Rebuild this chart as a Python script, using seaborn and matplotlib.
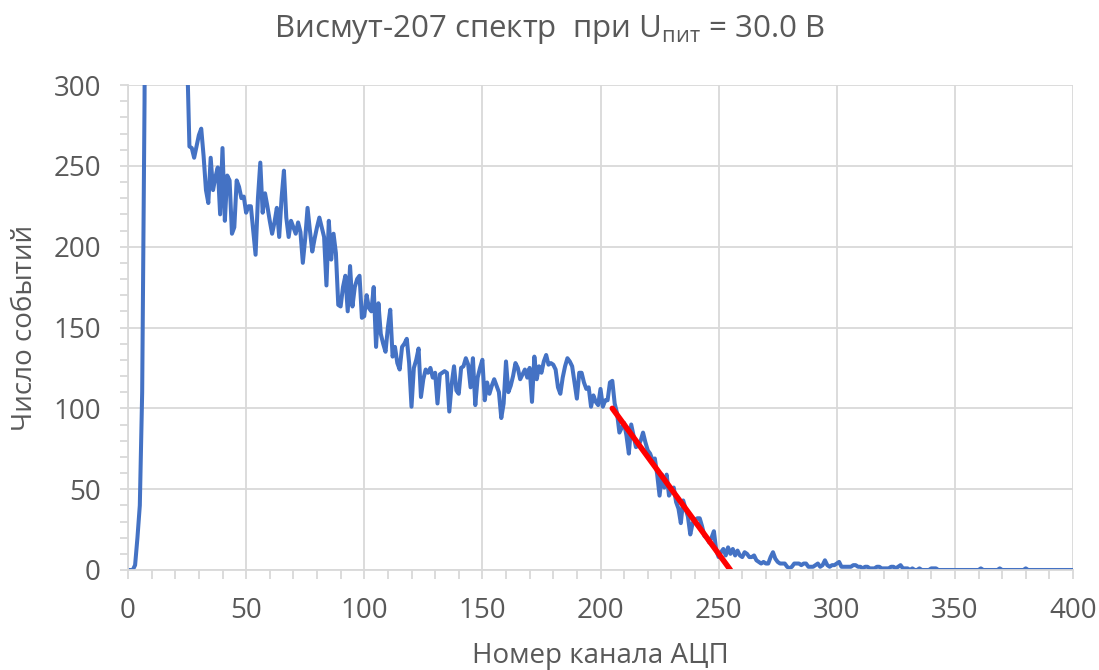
import numpy as np
import pandas as pd
import matplotlib
matplotlib.use("Agg")
import matplotlib.pyplot as plt
from matplotlib.ticker import MultipleLocator
import seaborn as sns

# ---- data ----
channels = list(range(0, 401))
counts = [
    0, 0, 0, 3, 20, 40, 110, 290, 650, 1100,
    1500, 1800, 1950, 2000, 1900, 1700, 1400, 1150, 950, 800,
    680, 580, 500, 430, 370, 320, 262, 261, 255, 262,
    269, 273, 256, 235, 227, 255, 235, 243, 249, 220,
    261, 216, 244, 241, 208, 212, 241, 237, 230, 231,
    221, 225, 225, 210, 195, 230, 252, 221, 233, 225,
    216, 208, 215, 224, 206, 230, 247, 218, 206, 216,
    212, 208, 215, 209, 190, 205, 224, 210, 197, 205,
    212, 218, 212, 206, 176, 216, 192, 208, 196, 164,
    163, 175, 182, 160, 188, 163, 175, 180, 182, 156,
    157, 170, 162, 160, 175, 138, 165, 146, 140, 135,
    150, 161, 132, 138, 128, 124, 138, 140, 143, 128,
    101, 125, 130, 137, 107, 118, 124, 122, 125, 119,
    122, 103, 121, 122, 123, 122, 98, 115, 126, 111,
    109, 125, 126, 131, 127, 113, 131, 102, 119, 125,
    130, 105, 116, 109, 114, 118, 114, 110, 94, 103,
    129, 110, 114, 120, 128, 125, 118, 121, 124, 119,
    125, 104, 132, 118, 126, 122, 129, 133, 127, 128,
    127, 124, 113, 109, 119, 126, 131, 129, 126, 116,
    106, 122, 122, 116, 112, 113, 101, 108, 104, 102,
    112, 101, 105, 105, 116, 117, 103, 97, 85, 88,
    91, 83, 72, 90, 83, 76, 77, 80, 85, 79,
    74, 72, 68, 69, 59, 46, 59, 51, 59, 46,
    49, 51, 42, 38, 29, 43, 38, 33, 22, 29,
    31, 32, 32, 27, 21, 20, 17, 20, 24, 12,
    8, 11, 13, 9, 14, 10, 13, 9, 12, 9,
    8, 11, 10, 8, 8, 9, 6, 5, 4, 5,
    4, 4, 8, 11, 7, 5, 4, 4, 4, 2,
    1, 2, 4, 4, 4, 3, 4, 4, 2, 2,
    2, 3, 4, 2, 3, 6, 3, 2, 3, 3,
    4, 5, 2, 2, 2, 2, 2, 3, 3, 2,
    2, 1, 2, 2, 1, 1, 1, 2, 2, 1,
    1, 1, 1, 2, 2, 1, 2, 3, 1, 1,
    1, 0, 1, 0, 0, 1, 0, 0, 0, 0,
    1, 1, 1, 0, 0, 0, 0, 0, 0, 0,
    0, 0, 0, 0, 0, 0, 0, 0, 0, 0,
    0, 1, 0, 0, 0, 0, 0, 0, 0, 1,
    0, 0, 0, 0, 0, 0, 0, 0, 0, 0,
    1, 0, 0, 0, 0, 0, 0, 0, 0, 0,
    0, 0, 0, 0, 0, 0, 0, 0, 0, 0,
    0,
]
fit_x = [205, 255]
fit_y = [100, 0]

title = r"Висмут-207 спектр  при U$_{\mathrm{пит}}$ = 30.0 В"
xlabel = "Номер канала АЦП"
ylabel = "Число событий"

# ---- style ----
sns.set_theme(style="white")
plt.rcParams["font.family"] = ["Open Sans", "DejaVu Sans"]
plt.rcParams["mathtext.fontset"] = "custom"
plt.rcParams["mathtext.rm"] = "Open Sans"
plt.rcParams["mathtext.it"] = "Open Sans"

text_col = "#595959"
grid_col = "#D9D9D9"

fig = plt.figure(figsize=(10.99, 6.70), dpi=100)
ax = fig.add_axes([128 / 1099, 1 - 570 / 670, (1073 - 128) / 1099, (570 - 85) / 670])

df = pd.DataFrame({"channel": channels, "counts": counts})
sns.lineplot(data=df, x="channel", y="counts", ax=ax, color="#4472C4", linewidth=2.9)
fit_df = pd.DataFrame({"x": fit_x, "y": fit_y})
sns.lineplot(data=fit_df, x="x", y="y", ax=ax, color="#FF0000", linewidth=4.0)

ax.set_xlim(0, 400)
ax.set_ylim(0, 300)
ax.xaxis.set_major_locator(MultipleLocator(50))
ax.xaxis.set_minor_locator(MultipleLocator(10))
ax.yaxis.set_major_locator(MultipleLocator(50))
ax.yaxis.set_minor_locator(MultipleLocator(10))
ax.grid(True, which="major", color=grid_col, linewidth=1.3)
ax.set_axisbelow(True)

for s in ["top", "right"]:
    ax.spines[s].set_visible(False)
for s in ["left", "bottom"]:
    ax.spines[s].set_color(grid_col)
    ax.spines[s].set_linewidth(1.3)

ax.tick_params(axis="both", which="both", direction="out", color=grid_col, width=1.3,
               labelcolor=text_col, labelsize=20)
ax.tick_params(axis="x", which="both", length=6.5, pad=13, bottom=True)
ax.tick_params(axis="y", which="both", length=5.5, pad=14, left=True)

ax.set_xlabel(xlabel, fontsize=20, color=text_col, labelpad=12)
ax.set_ylabel(ylabel, fontsize=20, color=text_col, labelpad=10)

fig.text(0.5, 1 - 30 / 670, title, ha="center", va="center", fontsize=22.5, color=text_col)

fig.savefig("out.png", dpi=100, facecolor="white")
